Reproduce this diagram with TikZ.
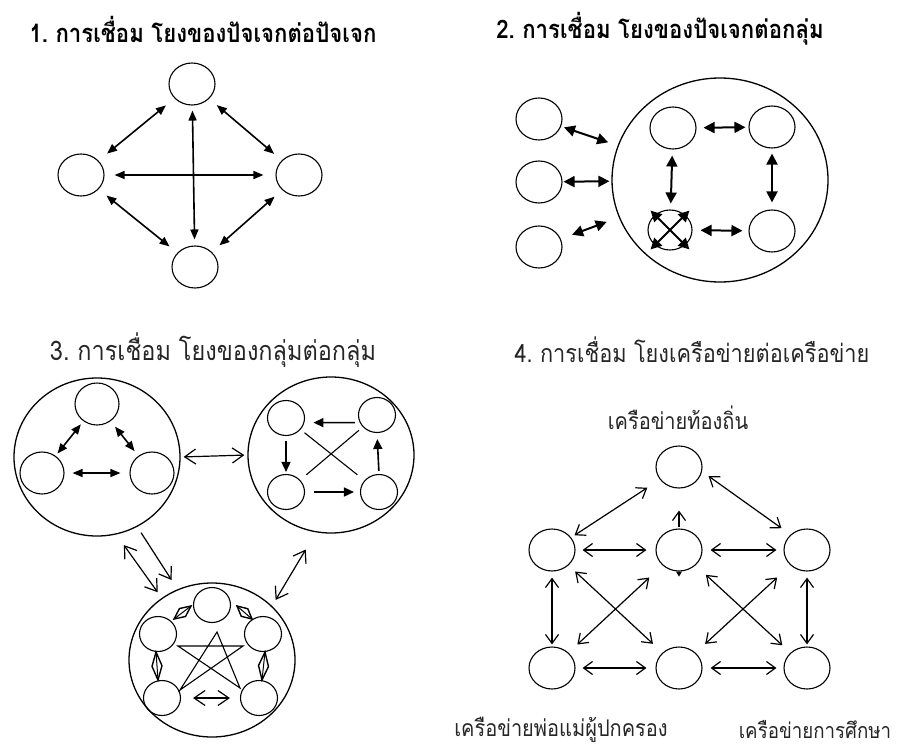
\documentclass[tikz,border=0pt]{standalone}
\usepackage{fontspec}
\newfontfamily\thai[Script=Thai,FakeStretch=0.87]{Loma}
\usetikzlibrary{shapes.geometric,arrows.meta,calc}
\begin{document}
\begin{tikzpicture}[x=1pt,y=-1pt,
  circ/.style={ellipse,draw,line width=1.1pt,minimum width=46pt,minimum height=42pt,inner sep=0pt},
  smallc/.style={circ,minimum width=37pt,minimum height=35pt},
  bigc/.style={ellipse,draw,line width=1.3pt,inner sep=0pt},
  fa/.style={line width=1.6pt,{Triangle[length=10pt,width=8pt]}-{Triangle[length=10pt,width=8pt]}},
  fb/.style={line width=2pt,{Triangle[length=11pt,width=11pt]}-{Triangle[length=11pt,width=11pt]}},
  fs/.style={line width=1.6pt,-{Triangle[length=10pt,width=9pt]}},
  oa/.style={line width=1.2pt,{Straight Barb[length=9pt,width=13pt]}-{Straight Barb[length=9pt,width=13pt]}},
  ob/.style={line width=1.2pt,{Straight Barb[length=11pt,width=15pt]}-{Straight Barb[length=11pt,width=15pt]}},
  obs/.style={line width=1.2pt,-{Straight Barb[length=11pt,width=15pt]}},
  kd/.style={line width=1.4pt,line join=miter},
  titleb/.style={inner sep=0pt,font=\thai\bfseries\fontsize{25.5}{30}\selectfont},
  titlen/.style={inner sep=0pt,font=\thai\fontsize{27}{31}\selectfont,text=black!85},
  labeln/.style={inner sep=0pt,font=\thai\fontsize{23}{26}\selectfont,text=black!85},
]
\useasboundingbox (0,0) rectangle (909,749);

% ---------- Panel 1 ----------
\node[titleb] (t1) at (203,29) {1.~การเชื่อม โยงของปัจเจกต่อปัจเจก};
\node[circ] (p1t) at (192,84) {};
\node[circ] (p1l) at (81,175) {};
\node[circ] (p1r) at (299,175) {};
\node[circ] (p1b) at (195,267) {};
\draw[fa,shorten <=11pt,shorten >=11pt] (p1t) -- (p1l);
\draw[fa,shorten <=10pt,shorten >=10pt] (p1t) -- (p1r);
\draw[fa,shorten <=10pt,shorten >=10pt] (p1l) -- (p1b);
\draw[fa,shorten <=10pt,shorten >=10pt] (p1r) -- (p1b);
\draw[fa,shorten <=5pt,shorten >=6pt] (p1t) -- (p1b);
\draw[fa,shorten <=10pt,shorten >=12pt] (p1l) -- (p1r);

% ---------- Panel 2 ----------
\node[titleb] (t2) at (660,29) {2.~การเชื่อม โยงของปัจเจกต่อกลุ่ม};
\node[bigc,minimum width=216pt,minimum height=204pt] (big) at (720,180) {};
\node[circ] (s1) at (539,119) {};
\node[circ] (s2) at (539,182) {};
\node[circ] (s3) at (539,247) {};
\node[circ] (i1) at (673,128) {};
\node[circ] (i2) at (772,127) {};
\node[circ,minimum width=44pt,minimum height=40pt] (i3) at (670,230) {};
\node[circ] (i4) at (772,231) {};
\draw[fb,shorten <=3pt,shorten >=10pt] (s1) -- (big);
\draw[fb,shorten <=1pt,shorten >=2pt] (s2) -- (big);
\draw[fb,shorten <=12pt,shorten >=13pt] (s3) -- (big);
\draw[fb,shorten <=7pt,shorten >=3pt] (i1) -- (i2);
\draw[fb,shorten <=8pt,shorten >=6pt] (i3) -- (i4);
\draw[fb,shorten <=6pt,shorten >=6pt] (i1) -- (i3);
\draw[fb,shorten <=5pt,shorten >=7pt] (i2) -- (i4);
\draw[fb,shorten <=-6pt,shorten >=-6pt] (i3.135) -- (i3.-45);
\draw[fb,shorten <=-6pt,shorten >=-6pt] (i3.45) -- (i3.-135);

% ---------- Panel 3 ----------
\node[titlen] (t3) at (213,350) {3.~การเชื่อม โยงของกลุ่มต่อกลุ่ม};
% group A
\node[bigc,minimum width=166pt,minimum height=158pt] (A) at (97,457) {};
\node[circ,minimum width=44pt] (a1) at (97,404) {};
\node[circ,minimum width=44pt] (a2) at (42,473) {};
\node[circ,minimum width=44pt] (a3) at (152,473) {};
\draw[fa,shorten <=4pt,shorten >=3pt] (a1) -- (a2);
\draw[fa,shorten <=7pt,shorten >=6pt] (a1) -- (a3);
\draw[fa,shorten <=8pt,shorten >=9pt] (a2) -- (a3);
% group B
\node[bigc,minimum width=166pt,minimum height=156pt] (B) at (331,455) {};
\node[smallc] (b1) at (286,418) {};
\node[smallc] (b2) at (377,415) {};
\node[smallc] (b3) at (286,492) {};
\node[smallc] (b4) at (379,492) {};
\draw[fs,shorten <=5pt,shorten >=9pt] (b2.204) -- (b1.-14);
\draw[fs,shorten <=5pt,shorten >=2pt] (b1.south) -- (b3.north);
\draw[fs,shorten <=9pt,shorten >=6pt] (b3) -- (b4);
\draw[fs,shorten <=3pt,shorten >=6pt] (b4.north) -- (b2.south);
\draw[line width=1.1pt,shorten <=5pt,shorten >=9pt] (b1) -- (b4);
\draw[line width=1.1pt,shorten <=5pt,shorten >=8pt] (b2) -- (b3);
% group C
\node[bigc,minimum width=166pt,minimum height=154pt] (C) at (212,660) {};
\node[smallc] (c1) at (212,605) {};
\node[smallc] (c2) at (158,634) {};
\node[smallc] (c3) at (263,634) {};
\node[smallc] (c4) at (162,698) {};
\node[smallc] (c5) at (259,698) {};
\coordinate (st) at (217,632);
\coordinate (sl) at (178,646);
\coordinate (sr) at (243,646);
\coordinate (sll) at (180,690);
\coordinate (slr) at (240,688);
\draw[line width=1.1pt,line join=miter] (st) -- (sll) -- (sr) -- (sl) -- (slr) -- cycle;
% diamond-shaped two-way links inside C
\coordinate (k1a) at (174,619); \coordinate (k1b) at (191,606);
\coordinate (k2a) at (237,606); \coordinate (k2b) at (252,619);
\coordinate (k3a) at (156,652); \coordinate (k3b) at (158,680);
\coordinate (k4a) at (265,652); \coordinate (k4b) at (262,680);
\foreach \p/\q/\w in {k1a/k1b/5pt,k2a/k2b/5pt,k3a/k3b/5pt,k4a/k4b/5pt}{
  \draw[kd] (\p) -- ($(\p)!0.5!(\q)!\w!90:(\q)$) -- (\q) -- ($(\p)!0.5!(\q)!\w!-90:(\q)$) -- cycle;
  \draw[line width=1pt] (\p) -- (\q);
}
\draw[ob,shorten <=12pt,shorten >=10pt] (c4) -- (c5);
% between groups
\draw[ob,shorten <=3pt,shorten >=3pt] (A.east) -- (B.west);
\draw[ob,shorten <=13pt,shorten >=7pt] (A.-76) -- (C.129);
\draw[obs,shorten <=7pt,shorten >=11pt] (A.-60) -- (C.116);
\draw[ob,shorten <=20pt,shorten >=7pt] (B.-101) -- (C.42);

% ---------- Panel 4 ----------
\node[titlen,font=\thai\fontsize{25}{29}\selectfont] (t4) at (692,350) {4.~การเชื่อม โยงเครือข่ายต่อเครือข่าย};
\node[labeln] (l1) at (678,418) {เครือข่ายท้องถิ่น};
\node[labeln] (l2) at (561,730) {เครือข่ายพ่อแม่ผู้ปกครอง};
\node[labeln,font=\thai\fontsize{21.5}{25}\selectfont] (l3) at (815,730) {เครือข่ายการศึกษา};
\node[circ] (q1) at (679,467) {};
\node[circ] (q2) at (552,550) {};
\node[circ] (q3) at (679,550) {};
\node[circ] (q4) at (807,550) {};
\node[circ] (q5) at (552,668) {};
\node[circ] (q6) at (679,668) {};
\node[circ] (q7) at (807,668) {};
\draw[oa,shorten <=15pt,shorten >=4pt] (q1) -- (q2);
\draw[oa,shorten <=8pt,shorten >=11pt] (q1.-11) -- (q4.137);
\draw[oa,shorten <=7pt,shorten >=9pt] (q2) -- (q3);
\draw[oa,shorten <=8pt,shorten >=7pt] (q3) -- (q4);
\draw[line width=1.2pt,-{Straight Barb[length=9pt,width=13pt]},shorten <=1pt,shorten >=22pt] (q3.north) -- (q1.south);
\fill (q3.south) ++(-3,0) -- ++(6,0) -- ++(-3,5) -- cycle;
\draw[oa,shorten <=6pt,shorten >=2pt] (q2) -- (q5);
\draw[oa,shorten <=6pt,shorten >=2pt] (q4) -- (q7);
\draw[oa,shorten <=7pt,shorten >=9pt] (q5) -- (q6);
\draw[oa,shorten <=8pt,shorten >=7pt] (q6) -- (q7);
\draw[oa,shorten <=9pt,shorten >=13pt] (q2) -- (q6);
\draw[oa,shorten <=18pt,shorten >=12pt] (q3) -- (q5);
\draw[oa,shorten <=14pt,shorten >=11pt] (q3) -- (q7);
\draw[oa,shorten <=18pt,shorten >=13pt] (q4) -- (q6);
\end{tikzpicture}
\end{document}
